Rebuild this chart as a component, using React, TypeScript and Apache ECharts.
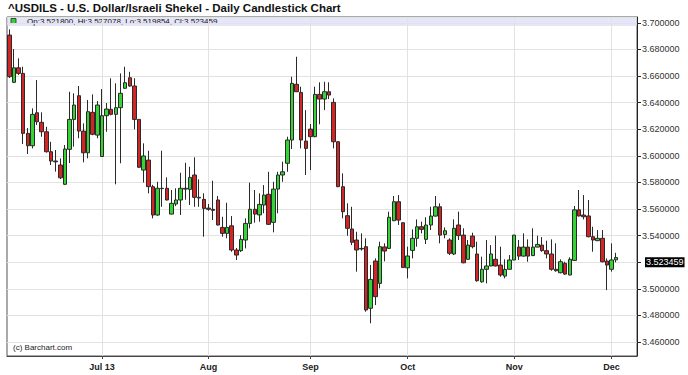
import React, { useEffect, useRef } from "react";
import * as echarts from "echarts";

// Trading days: weekdays from 2013-06-03 to 2013-12-03 (132 candles), plus 4 empty slots at the right edge
function weekdays(start: string, count: number): string[] {
  const out: string[] = [];
  const d = new Date(start + "T00:00:00Z");
  while (out.length < count) {
    const wd = d.getUTCDay();
    if (wd !== 0 && wd !== 6) out.push(d.toISOString().slice(0, 10));
    d.setUTCDate(d.getUTCDate() + 1);
  }
  return out;
}
const categories: string[] = weekdays("2013-06-03", 136);

const tickDates = ["2013-07-01", "2013-08-01", "2013-09-02", "2013-10-01", "2013-11-01", "2013-12-02"];
const tickLabels = ["Jul 13", "Aug", "Sep", "Oct", "Nov", "Dec"];

const opens = [
  3.6908, 3.6553, 3.6662, 3.662, 3.6169, 3.6076, 3.6324, 3.6252, 3.6181, 3.6031,
  3.5961, 3.5931, 3.5786, 3.6049, 3.6274, 3.6452, 3.6186, 3.6023, 3.6327, 3.6156,
  3.5995, 3.6302, 3.635, 3.6312, 3.6362, 3.6508, 3.6587, 3.6525, 3.6274, 3.5893,
  3.5968, 3.5768, 3.5555, 3.5756, 3.5756, 3.5562, 3.5638, 3.5668, 3.5756, 3.5748,
  3.5856, 3.5688, 3.5673, 3.5607, 3.5598, 3.5668, 3.5462, 3.5417, 3.5474, 3.5292,
  3.5287, 3.5367, 3.5492, 3.5598, 3.5556, 3.563, 3.5711, 3.55, 3.575, 3.5856,
  3.5944, 3.6119, 3.6538, 3.6477, 3.6111, 3.6201, 3.6144, 3.6462, 3.6427, 3.6482,
  3.6402, 3.6106, 3.5768, 3.555, 3.545, 3.5367, 3.5304, 3.5317, 3.4854, 3.5209,
  3.5041, 3.5315, 3.5304, 3.5512, 3.5655, 3.5497, 3.5158, 3.5289, 3.538, 3.5467,
  3.5372, 3.548, 3.5547, 3.5617, 3.5409, 3.5367, 3.5262, 3.548, 3.5404, 3.5222,
  3.5397, 3.5262, 3.5053, 3.5147, 3.5172, 3.5222, 3.5179, 3.5096, 3.5147, 3.5217,
  3.5314, 3.5246, 3.5314, 3.525, 3.5314, 3.5329, 3.5287, 3.5262, 3.5147, 3.5121,
  3.5192, 3.5104, 3.5214, 3.5594, 3.5555, 3.5548, 3.5392, 3.5362, 3.538, 3.5209,
  3.5147, 3.5218,
];
const closes = [
  3.6595, 3.6662, 3.662, 3.6169, 3.6076, 3.6312, 3.6256, 3.6181, 3.6031, 3.5961,
  3.5955, 3.5835, 3.6051, 3.6274, 3.6382, 3.6186, 3.6023, 3.6332, 3.6162, 3.6382,
  3.6302, 3.6352, 3.6312, 3.6362, 3.647, 3.655, 3.6525, 3.6274, 3.5914, 3.5999,
  3.5768, 3.5555, 3.5756, 3.5753, 3.5668, 3.5643, 3.5668, 3.5756, 3.575, 3.5838,
  3.5688, 3.5683, 3.5605, 3.5598, 3.559, 3.548, 3.5417, 3.5462, 3.5292, 3.5254,
  3.5372, 3.5492, 3.5598, 3.5562, 3.5635, 3.5705, 3.5485, 3.575, 3.5856, 3.588,
  3.6119, 3.6545, 3.6482, 3.6119, 3.6056, 3.6144, 3.6462, 3.6427, 3.6482, 3.6457,
  3.6106, 3.5768, 3.558, 3.5455, 3.535, 3.5292, 3.53, 3.4841, 3.5071, 3.4941,
  3.5317, 3.5284, 3.5538, 3.5655, 3.5517, 3.516, 3.5247, 3.538, 3.5467, 3.5447,
  3.548, 3.5547, 3.5617, 3.5404, 3.5437, 3.5267, 3.5455, 3.54, 3.5196, 3.5329,
  3.5317, 3.5061, 3.5147, 3.5172, 3.5262, 3.5172, 3.5104, 3.5146, 3.5217, 3.5404,
  3.5246, 3.5314, 3.5246, 3.5314, 3.5334, 3.5287, 3.5262, 3.5147, 3.5136, 3.5204,
  3.5111, 3.5222, 3.5594, 3.5548, 3.5542, 3.5392, 3.5367, 3.538, 3.5204, 3.5179,
  3.5217, 3.5235,
];
const lows = [
  3.6585, 3.6547, 3.6608, 3.6089, 3.6014, 3.6056, 3.6232, 3.6144, 3.6025, 3.5931,
  3.5881, 3.5826, 3.5781, 3.5946, 3.6069, 3.6132, 3.5951, 3.5981, 3.6155, 3.6132,
  3.5993, 3.6181, 3.6305, 3.5786, 3.5944, 3.6505, 3.652, 3.6199, 3.591, 3.5799,
  3.5718, 3.553, 3.555, 3.5617, 3.5665, 3.556, 3.5622, 3.5555, 3.567, 3.563,
  3.5617, 3.5617, 3.5392, 3.5587, 3.5517, 3.5477, 3.5392, 3.538, 3.5279, 3.5217,
  3.5277, 3.5304, 3.5455, 3.5497, 3.5505, 3.5568, 3.548, 3.5425, 3.5568, 3.5805,
  3.588, 3.6051, 3.648, 3.6056, 3.5856, 3.5893, 3.614, 3.6237, 3.6344, 3.6427,
  3.6056, 3.5765, 3.553, 3.5399, 3.5329, 3.5129, 3.5287, 3.4828, 3.4741, 3.4878,
  3.5004, 3.5207, 3.53, 3.551, 3.548, 3.5157, 3.5079, 3.5229, 3.5317, 3.5417,
  3.5337, 3.5442, 3.5544, 3.5342, 3.538, 3.5254, 3.5254, 3.5367, 3.5192, 3.522,
  3.5304, 3.5054, 3.5046, 3.5041, 3.517, 3.5168, 3.5091, 3.5079, 3.5146, 3.5215,
  3.5217, 3.5242, 3.5204, 3.5246, 3.5312, 3.5279, 3.5229, 3.5136, 3.5129, 3.5117,
  3.5104, 3.5102, 3.5209, 3.5544, 3.5522, 3.5387, 3.5279, 3.5359, 3.5198, 3.4991,
  3.5129, 3.5199,
];
const highs = [
  3.6951, 3.6803, 3.6733, 3.667, 3.6209, 3.6357, 3.657, 3.6327, 3.6219, 3.6106,
  3.6044, 3.5981, 3.6081, 3.6482, 3.647, 3.6525, 3.6244, 3.642, 3.6462, 3.6412,
  3.6502, 3.6397, 3.6583, 3.6545, 3.662, 3.667, 3.6632, 3.6583, 3.6277, 3.6094,
  3.6038, 3.5782, 3.5805, 3.6038, 3.5838, 3.5743, 3.5756, 3.5873, 3.5948, 3.5918,
  3.5989, 3.5823, 3.5718, 3.5638, 3.5813, 3.5698, 3.5542, 3.5647, 3.5547, 3.5307,
  3.5404, 3.553, 3.5798, 3.5743, 3.5718, 3.578, 3.588, 3.5805, 3.588, 3.5956,
  3.6144, 3.6595, 3.6745, 3.652, 3.6344, 3.6239, 3.652, 3.6553, 3.6557, 3.6553,
  3.6432, 3.611, 3.5868, 3.5643, 3.5617, 3.5429, 3.5417, 3.538, 3.518, 3.5229,
  3.5354, 3.5342, 3.558, 3.5698, 3.5705, 3.55, 3.5317, 3.5447, 3.5522, 3.5505,
  3.5538, 3.5617, 3.5698, 3.5643, 3.5462, 3.538, 3.5522, 3.558, 3.5455, 3.5367,
  3.5422, 3.5354, 3.5242, 3.5367, 3.5329, 3.54, 3.5317, 3.5222, 3.5254, 3.5406,
  3.5367, 3.5417, 3.5372, 3.5455, 3.54, 3.5389, 3.5362, 3.5372, 3.5342, 3.5222,
  3.5204, 3.5237, 3.5623, 3.5743, 3.5705, 3.5668, 3.5467, 3.5442, 3.5442, 3.5229,
  3.5342, 3.5271,
];

const lastClose = 3.523459;
const titleText = "^USDILS - U.S. Dollar/Israeli Shekel - Daily Candlestick Chart";
const legendText = "Op:3.521800, Hi:3.527078, Lo:3.519854, Cl:3.523459";

const FONT = '"Liberation Sans Narrow", "Arial Narrow", "Liberation Sans", Arial, sans-serif';

export default function App() {
  const ref = useRef<HTMLDivElement>(null);
  useEffect(() => {
    if (!ref.current) return;
    const chart = echarts.init(ref.current, undefined, { renderer: "svg" });
    const data = opens.map((o, i) => [o, closes[i], lows[i], highs[i]]);
    const isTick = (_i: number, v: string) => tickDates.indexOf(v) >= 0;
    chart.setOption({
      animation: false,
      backgroundColor: "#ffffff",
      textStyle: { fontFamily: FONT },
      grid: { left: 7, right: 51, top: 17, bottom: 19, show: true, borderColor: "#555", borderWidth: 1 },
      xAxis: {
        type: "category",
        data: categories,
        boundaryGap: true,
        axisLine: { show: true, lineStyle: { color: "#444" } },
        axisTick: { show: true, alignWithLabel: true, interval: isTick, length: 3, lineStyle: { color: "#444" } },
        axisLabel: {
          interval: isTick,
          formatter: (v: string) => {
            const k = tickDates.indexOf(v);
            return k >= 0 ? tickLabels[k] : "";
          },
          fontSize: 9,
          fontWeight: "bold",
          color: "#222",
          margin: 6,
          fontFamily: FONT,
        },
        splitLine: { show: true, interval: isTick, alignWithLabel: true, lineStyle: { color: "#e2e2e2" } },
      },
      yAxis: {
        type: "value",
        position: "right",
        min: 3.4495,
        max: 3.7044,
        splitNumber: 12,
        minInterval: 0.02,
        maxInterval: 0.02,
        axisLine: { show: true, lineStyle: { color: "#222" } },
        axisTick: { show: true, length: 4, lineStyle: { color: "#222" } },
        axisLabel: {
          // the 3.520000 label sits under the last-price marker in the reference
          formatter: (v: number) => (Math.abs(v - 3.52) < 1e-6 ? "" : v.toFixed(6)),
          showMinLabel: false,
          showMaxLabel: false,
          fontSize: 9,
          color: "#333",
          margin: 5,
          fontFamily: FONT,
        },
        splitLine: { show: true, lineStyle: { color: "#e2e2e2" } },
      },
      series: [
        {
          type: "candlestick",
          data,
          barWidth: 4,
          itemStyle: {
            color: "#33d433",
            color0: "#d42424",
            borderColor: "#2a2a2a",
            borderColor0: "#2a2a2a",
            borderColorDoji: "#2a2a2a",
            borderWidth: 1,
          },
          markLine: {
            silent: true,
            symbol: "none",
            data: [{ yAxis: lastClose }],
            lineStyle: { width: 0, color: "rgba(0,0,0,0)", type: "solid" },
            label: {
              show: true,
              position: "end",
              formatter: lastClose.toFixed(6),
              color: "#ffffff",
              backgroundColor: "#000000",
              padding: [1, 1, 0, 1],
              fontSize: 9,
              distance: 8,
              fontFamily: FONT,
            },
          },
        },
      ],
      graphic: [
        {
          type: "text",
          left: 8,
          top: 2,
          style: { text: titleText, font: `bold 11.5px ${FONT}`, fill: "#111" },
        },
        {
          type: "rect",
          shape: { x: 7.5, y: 17.5, width: 629, height: 8 },
          style: { fill: "#e6e6fa", stroke: "#d8d8ee", lineWidth: 0.5 },
        },
        {
          type: "rect",
          shape: { x: 11, y: 18.5, width: 5, height: 5 },
          style: { fill: "#33d433", stroke: "#2a2a2a", lineWidth: 0.8 },
        },
        {
          type: "text",
          x: 27,
          y: 21.5,
          style: { text: legendText, font: `8px ${FONT}`, fill: "#111", verticalAlign: "middle" },
        },
        {
          type: "text",
          x: 13,
          y: 347,
          style: { text: "(c) Barchart.com", font: `8px ${FONT}`, fill: "#222", verticalAlign: "middle" },
        },
      ],
    });
    return () => chart.dispose();
  }, []);
  return (
    <div
      ref={ref}
      style={{ position: "absolute", left: 0, top: 0, width: 688, height: 375 }}
    />
  );
}
